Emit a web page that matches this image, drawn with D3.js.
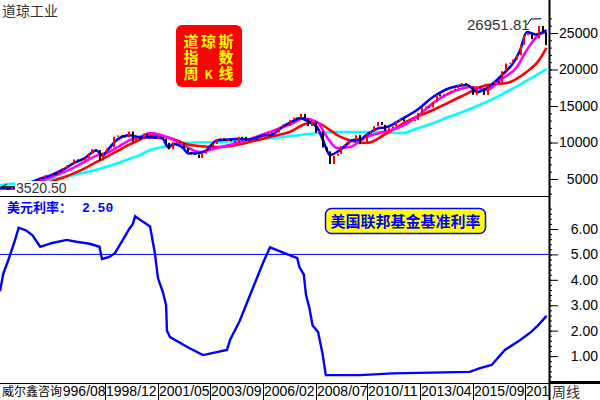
<!DOCTYPE html>
<html><head><meta charset="utf-8">
<script src="https://cdn.jsdelivr.net/npm/d3@7"></script>
<style>body{margin:0;background:#fff}svg{display:block}</style>
</head><body>
<svg id="c" width="600" height="400"></svg>
<script>
// ---------- DATA ----------
// bi-monthly closes (Feb, Apr, Jun, Aug, Oct, Dec), 1994-2018
const priceClose = [
3830,3680,3625,3910,3910,3834, 4011,4321,4556,4610,4756,5117,
5485,5569,5654,5616,6029,6448, 6877,7009,7673,7622,7442,7908,
8546,9063,8952,7539,8592,9181, 9307,10789,10971,10829,10730,11497,
10128,10734,10448,11215,10971,10788, 10495,10735,10502,9950,9075,10021,
10106,9946,9243,8664,8397,8342, 7891,8480,8985,9416,9801,10454,
10584,10226,10435,10174,10027,10783, 10766,10193,10275,10482,10440,10718,
10993,11367,11150,11381,12081,12463, 12269,13063,13409,13358,13930,13265,
12266,12820,11350,11544,9325,8776, 7063,8168,8447,9496,9713,10428,
10325,11009,9774,10015,11118,11578, 12226,12811,12414,11614,11955,12218,
12952,13214,12880,13091,13096,13104, 14054,14840,14910,14810,15546,16577,
16322,16581,16827,17098,17391,17823, 18133,17841,17620,16528,17664,17425,
16517,17774,17930,18401,18142,19763, 20812,20941,21350,21948,23377,24719,
25029,24163,24271,25965,25116,23327
];
const priceYears = priceClose.map((d, i) => 1994 + (2 * i + 2) / 12 - 0.01);

// moving averages [decimal year, value]
const maBlue = [[1994.12,3800],[1994.5,3700],[1995.0,3900],[1995.5,4500],[1996.0,5100],[1996.5,5600],[1997.0,6300],[1997.5,7200],[1998.0,7900],[1998.5,8900],[1998.8,8200],[1999.0,8900],[1999.5,10500],[2000.0,11000],[2000.5,10700],[2001.0,10700],[2001.5,10600],[2001.8,9300],[2002.0,9800],[2002.45,9250],[2002.7,8500],[2003.2,8560],[2003.5,8900],[2004.0,10300],[2004.5,10400],[2005.0,10500],[2005.5,10400],[2006.0,10900],[2006.5,11100],[2007.0,12200],[2007.5,13000],[2007.8,13360],[2008.0,13100],[2008.55,12100],[2008.82,10340],[2009.14,8300],[2009.6,8970],[2010.2,10340],[2010.5,10400],[2010.8,11030],[2011.3,11900],[2011.74,12120],[2012.33,13080],[2013.1,14450],[2013.83,16230],[2014.6,17470],[2015.38,17880],[2015.83,16920],[2016.29,17470],[2016.88,18970],[2017.8,22670],[2018.1,25140],[2018.5,24800],[2019.0,25400]];
const maMagenta = [[1994.12,3800],[1994.5,3750],[1995.0,3850],[1995.5,4200],[1996.0,4750],[1996.5,5300],[1997.0,5900],[1997.5,6600],[1998.0,7400],[1998.5,8200],[1999.0,8600],[1999.5,9400],[2000.0,10300],[2000.5,10800],[2000.95,11300],[2001.72,10750],[2002.45,9660],[2003.22,8700],[2004.0,9250],[2004.9,9930],[2006.27,11300],[2007.46,12670],[2007.9,13300],[2008.55,12810],[2009.0,10750],[2009.46,9250],[2010.05,9380],[2010.8,10750],[2011.55,11440],[2012.33,12120],[2013.0,13300],[2013.83,15400],[2014.6,16780],[2015.65,17600],[2016.29,17200],[2016.88,18560],[2017.65,20340],[2018.1,22670],[2018.84,25000],[2019.0,25000]];
const maRed = [[1994.12,3700],[1994.5,3750],[1995.0,3800],[1995.5,3950],[1996.0,4250],[1996.5,4700],[1997.0,5200],[1997.5,5800],[1998.0,6500],[1998.5,7300],[1999.0,8100],[1999.5,8900],[2000.0,9700],[2000.5,10400],[2000.95,11030],[2001.86,10620],[2002.77,9660],[2004.0,9380],[2004.9,9660],[2005.5,10070],[2006.4,10750],[2007.3,11440],[2008.2,12670],[2008.55,12670],[2009.14,11700],[2009.6,10800],[2010.83,9930],[2011.74,11300],[2012.78,13080],[2013.83,14450],[2015.06,16230],[2016.29,17880],[2017.2,18150],[2018.1,19700],[2018.56,20900],[2019.0,22950]];
const maCyan = [[1994.12,4150],[1994.5,4300],[1995.0,4450],[1995.5,4620],[1996.0,4800],[1996.5,5000],[1997.0,5250],[1997.5,5550],[1998.0,5900],[1998.5,6250],[1999.0,6700],[1999.5,7200],[2000.0,7750],[2000.5,8300],[2000.95,8970],[2001.5,9350],[2002.0,9700],[2002.5,9930],[2003.0,10000],[2004.0,10070],[2005.5,10340],[2007.0,10750],[2007.8,11030],[2009.3,11440],[2010.84,11440],[2012.45,11300],[2013.0,11800],[2013.85,12670],[2014.5,13450],[2015.4,14450],[2016.0,15200],[2016.9,16500],[2017.5,17450],[2018.4,19000],[2019.0,20070]];

// US federal funds rate [decimal year, %]
const rateData = [[1994.12,3.55],[1994.27,4.25],[1994.5,4.78],[1994.8,5.55],[1994.97,6.05],[1995.3,5.95],[1995.6,5.75],[1995.95,5.3],[1996.5,5.45],[1997.15,5.57],[1997.6,5.5],[1998.2,5.42],[1998.65,5.3],[1998.76,4.82],[1999.1,4.9],[1999.35,5.05],[1999.8,5.7],[2000.0,6.0],[2000.17,6.2],[2000.27,6.5],[2000.6,6.3],[2000.95,6.1],[2001.17,5.05],[2001.31,4.07],[2001.54,3.5],[2001.68,3.0],[2001.72,2.0],[2001.86,1.75],[2002.77,1.3],[2003.36,1.04],[2004.45,1.24],[2004.59,1.63],[2005.04,2.4],[2005.64,3.7],[2006.09,4.66],[2006.41,5.28],[2007.3,4.97],[2007.65,4.85],[2007.75,4.5],[2007.95,4.2],[2008.05,3.4],[2008.2,2.9],[2008.35,2.2],[2008.6,1.95],[2008.8,1.1],[2008.95,0.25],[2010.5,0.25],[2012.0,0.32],[2015.5,0.38],[2015.97,0.53],[2016.5,0.65],[2017.1,1.24],[2017.8,1.63],[2018.3,1.95],[2018.6,2.2],[2019.0,2.58]];

const topTicks = [5000,10000,15000,20000,25000];
const botTicks = [1,2,3,4,5,6];
const dateLabels = ["1996/08","1998/12","2001/05","2003/09","2006/02","2008/07","2010/11","2013/04","2015/09","2018/01"];
const refRate = 5;
const highValue = 26951.81, highYear = 2018.76;
const lowValue = 3520.50;
const currentRate = "2.50";

// ---------- DRAW ----------
const svg = d3.select("#c");
const AX = 549;
const x = d3.scaleLinear().domain([1994.12, 2019.11]).range([0, AX]);
const yT = d3.scaleLinear().domain([5000, 25000]).range([179, 33]);
const yB = d3.scaleLinear().domain([0, 6]).range([381.5, 229]);
const numFont = "'Liberation Sans', Arial, sans-serif";
const cjk = "'Noto Sans CJK SC', sans-serif";

svg.append("rect").attr("width",600).attr("height",400).attr("fill","#fff");
const defs = svg.append("defs");
defs.append("clipPath").attr("id","ct").append("rect").attr("x",0).attr("y",0).attr("width",AX).attr("height",195);
defs.append("clipPath").attr("id","cb").append("rect").attr("x",0).attr("y",198).attr("width",AX).attr("height",184);
defs.append("clipPath").attr("id","cd").append("rect").attr("x",63).attr("y",383).attr("width",AX-63).attr("height",17);

const topG = svg.append("g").attr("clip-path","url(#ct)");
const line = d3.line().x(d => x(d[0])).y(d => yT(d[1])).curve(d3.curveMonotoneX);
[[maCyan,"#00ffff"],[maRed,"#ff0000"],[maMagenta,"#ff00ff"],[maBlue,"#0000ff"]].forEach(([data,c]) => {
  topG.append("path").attr("d", line(data)).attr("fill","none").attr("stroke",c).attr("stroke-width",2.6);
});
// candles (open = previous close)
topG.selectAll("rect.k").data(priceClose.slice(1)).join("rect")
  .attr("x",(d,i) => Math.round(x(priceYears[i+1])) - 1)
  .attr("y",(d,i) => yT(Math.max(d, priceClose[i])))
  .attr("width",2)
  .attr("height",(d,i) => Math.max(1, Math.abs(yT(d) - yT(priceClose[i]))))
  .attr("fill",(d,i) => d >= priceClose[i] ? "#ff0000" : "#000");

// bottom panel
const botG = svg.append("g").attr("clip-path","url(#cb)");
botG.append("line").attr("x1",0).attr("x2",AX).attr("y1",yB(refRate)).attr("y2",yB(refRate)).attr("stroke","#0000ff").attr("stroke-width",1);
botG.append("path").attr("d", d3.line().x(d => x(d[0])).y(d => yB(d[1]))(rateData))
  .attr("fill","none").attr("stroke","#0000ff").attr("stroke-width",2.4);

// frame lines
svg.append("line").attr("x1",0).attr("x2",AX).attr("y1",196.5).attr("y2",196.5).attr("stroke","#000");
svg.append("line").attr("x1",0).attr("x2",600).attr("y1",383.5).attr("y2",383.5).attr("stroke","#000");
svg.append("line").attr("x1",AX).attr("x2",600).attr("y1",382).attr("y2",382).attr("stroke","#000").attr("stroke-width",2);
svg.append("line").attr("x1",AX+0.5).attr("x2",AX+0.5).attr("y1",0).attr("y2",400).attr("stroke","#000").attr("stroke-width",2);

// right axes
function styleAxis(g){
  g.select(".domain").remove();
  g.selectAll("text").attr("text-anchor","end").attr("x",48).attr("font-family",numFont).attr("font-size",14).attr("fill","#000");
  g.selectAll("line").attr("stroke","#000");
}
svg.append("g").attr("transform",`translate(${AX+1},0)`)
  .call(d3.axisRight(yT).tickValues(d3.range(3000,27001,1000)).tickSize(2).tickFormat(""))
  .call(g => g.select(".domain").remove());
svg.append("g").attr("transform",`translate(${AX+1},0)`)
  .call(d3.axisRight(yT).tickValues(topTicks).tickSize(8).tickFormat(d3.format("d")))
  .call(styleAxis);
svg.append("g").attr("transform",`translate(${AX+1},0)`)
  .call(d3.axisRight(yB).tickValues(d3.range(0.2,6.81,0.2)).tickSize(2).tickFormat(""))
  .call(g => g.select(".domain").remove());
svg.append("g").attr("transform",`translate(${AX+1},0)`)
  .call(d3.axisRight(yB).tickValues(botTicks).tickSize(8).tickFormat(d3.format(".2f")))
  .call(styleAxis);

// bottom date labels (clipped between the credit text and the axis)
const dg = svg.append("g").attr("clip-path","url(#cd)");
dateLabels.forEach(s => {
  const [yy, mm] = s.split("/").map(Number);
  const px = Math.round(x(yy + (mm - 1) / 12));
  dg.append("line").attr("x1",px+0.5).attr("x2",px+0.5).attr("y1",383).attr("y2",400).attr("stroke","#000");
  dg.append("text").attr("x",px+1).attr("y",396).attr("font-family",numFont).attr("font-size",14).attr("fill","#000").text(s);
});
svg.append("text").attr("x",2).attr("y",396).attr("font-family",cjk).attr("font-size",12).attr("fill","#000").text("威尔鑫咨询");
svg.append("text").attr("x",552).attr("y",397).attr("font-family",cjk).attr("font-size",14).attr("fill","#333").text("周线");

// titles and annotations
svg.append("text").attr("x",2).attr("y",16).attr("font-family",cjk).attr("font-size",14).attr("fill","#333").text("道琼工业");
svg.append("text").attr("x",467).attr("y",30).attr("font-family",numFont).attr("font-size",15).attr("fill","#333").text(highValue.toFixed(2));
svg.append("polyline").attr("points",`527,25 531,19 ${x(highYear)},${yT(highValue)}`).attr("fill","none").attr("stroke","#000");
svg.append("rect").attr("x",15).attr("y",181).attr("width",54).attr("height",13).attr("fill","#fff");
svg.append("path").attr("d","M2,186.5 L7,184 M2,186.5 L7,189 M2,186.5 L15,186.5").attr("stroke","#333").attr("fill","none");
svg.append("text").attr("x",16).attr("y",193).attr("font-family",numFont).attr("font-size",14).attr("fill","#333").text(lowValue.toFixed(2));

// red box
svg.append("rect").attr("x",176).attr("y",25).attr("width",66).attr("height",62).attr("rx",6).attr("fill","#ff0000");
const boxText = [["道","琼","斯"],["指","","数"],["周","K","线"]];
boxText.forEach((row, r) => row.forEach((ch, c) => {
  if (!ch) return;
  svg.append("text").attr("x",191 + c*17.5).attr("y",47 + r*16).attr("text-anchor","middle")
    .attr("font-family",cjk).attr("font-weight","bold").attr("font-size", ch === "K" ? 12 : 15)
    .attr("fill","#ffff00").text(ch);
}));

// yellow box
svg.append("rect").attr("x",325.5).attr("y",208.5).attr("width",160).attr("height",25).attr("rx",6)
  .attr("fill","#ffff00").attr("stroke","#0000ff").attr("stroke-width",1.5);
svg.append("text").attr("x",405.5).attr("y",227).attr("text-anchor","middle").attr("font-family",cjk)
  .attr("font-weight","bold").attr("font-size",15).attr("fill","#0000ff").text("美国联邦基金基准利率");

// current rate label
const rl = svg.append("text").attr("x",7).attr("y",212).attr("fill","#0000ff").attr("font-weight","bold").attr("font-size",13);
rl.append("tspan").attr("font-family",cjk).text("美元利率：");
rl.append("tspan").attr("x",82).attr("font-family","'Liberation Mono', monospace").text(currentRate);
</script>
</body></html>
